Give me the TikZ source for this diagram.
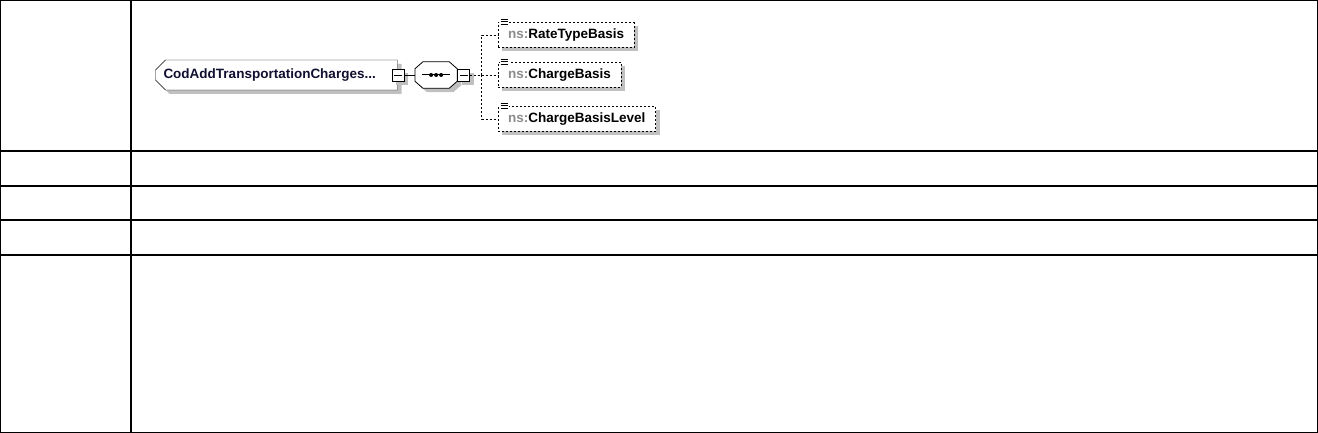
\documentclass[tikz,border=0pt]{standalone}
\usepackage{fontspec}
\setmainfont{Liberation Sans}
\usepackage{xcolor}
\usetikzlibrary{positioning,shapes.misc,shadows}

\definecolor{nsgray}{RGB}{140,140,140}
\definecolor{elemtext}{RGB}{16,16,48}
\definecolor{shadegray}{RGB}{192,192,192}

\begin{document}
\begin{tikzpicture}[x=1pt,y=-1pt,
  node distance=12pt,
  grid/.style={line width=1.4pt},
  shade/.style={drop shadow={shadow xshift=4pt,shadow yshift=-4pt,fill=shadegray,opacity=1}},
  elem/.style={draw,fill=white,shade,chamfered rectangle,chamfered rectangle corners={north west,south west},
    chamfered rectangle sep=5pt,text width=226pt,align=left,minimum height=30pt,inner xsep=3pt,
    font=\fontsize{13.5}{16}\selectfont\bfseries,text=elemtext},
  seqbox/.style={minimum width=42pt,minimum height=26pt,inner sep=0pt},
  minus/.style={draw,fill=white,shade,minimum size=12pt,inner sep=0pt,
    path picture={\draw[line width=0.8pt] ([xshift=2pt]path picture bounding box.west) -- ([xshift=-2pt]path picture bounding box.east);}},
  child/.style={draw,dashed,dash pattern=on 2pt off 2pt,fill=white,shade,anchor=west,minimum height=25pt,
    inner xsep=10pt,font=\fontsize{13.5}{16}\selectfont\bfseries},
  conn/.style={line width=0.8pt},
  dconn/.style={line width=0.8pt,dash pattern=on 2pt off 2pt}
]
  \useasboundingbox (0,0) rectangle (1318,433);

  \draw[grid] (0.7,0.7) rectangle (1317.3,432.3);
  \draw[grid] (131,0) -- (131,433);
  \foreach \y in {151,186,220,255}
    \draw[grid] (0,\y) -- (1318,\y);

  \node[elem] (root) at (276.5,75) {CodAddTransportationCharges...};
  \node[minus] (rootmin) at (root.east) {};
  \node[seqbox, right=11pt of rootmin] (seq) {};
  \draw[fill=white,shade,line width=0.8pt]
    ([xshift=8pt]seq.north west) -- ([xshift=-8pt]seq.north east) -- ([yshift=-7pt]seq.north east)
    -- ([yshift=7pt]seq.south east) -- ([xshift=-8pt]seq.south east) -- ([xshift=8pt]seq.south west)
    -- ([yshift=7pt]seq.south west) -- ([yshift=-7pt]seq.north west) -- cycle;
  \node[minus, right=0pt of seq] (seqmin) {};
  \coordinate[right=12pt of seqmin] (fork);

  \draw[line width=1pt] ([xshift=-7pt]seq.east) -- ([xshift=7pt]seq.west);
  \foreach \dx in {-5,0,5}
    \fill ([xshift=\dx pt]seq.center) circle (2pt);

  \node[child] (rate) at (498,35) {\textcolor{nsgray}{ns:}RateTypeBasis};
  \node[child] (basis) at (498,75) {\textcolor{nsgray}{ns:}ChargeBasis};
  \node[child] (level) at (498,119) {\textcolor{nsgray}{ns:}ChargeBasisLevel};

  \foreach \n in {rate,basis,level} {
    \fill[white] ([xshift=1.5pt,yshift=-3pt]\n.north west) rectangle ++(9pt,7pt);
    \foreach \k in {-2,0.5,3}
      \draw[line width=0.7pt] ([xshift=2.5pt,yshift=\k pt]\n.north west) -- ++(7pt,0);
  }

  \draw[conn] (rootmin) -- (seq);
  \draw[dconn] (seqmin) -- (fork);
  \draw[dconn] (fork) |- (rate);
  \draw[dconn] (fork) -- (basis);
  \draw[dconn] (fork) |- (level);
\end{tikzpicture}
\end{document}
